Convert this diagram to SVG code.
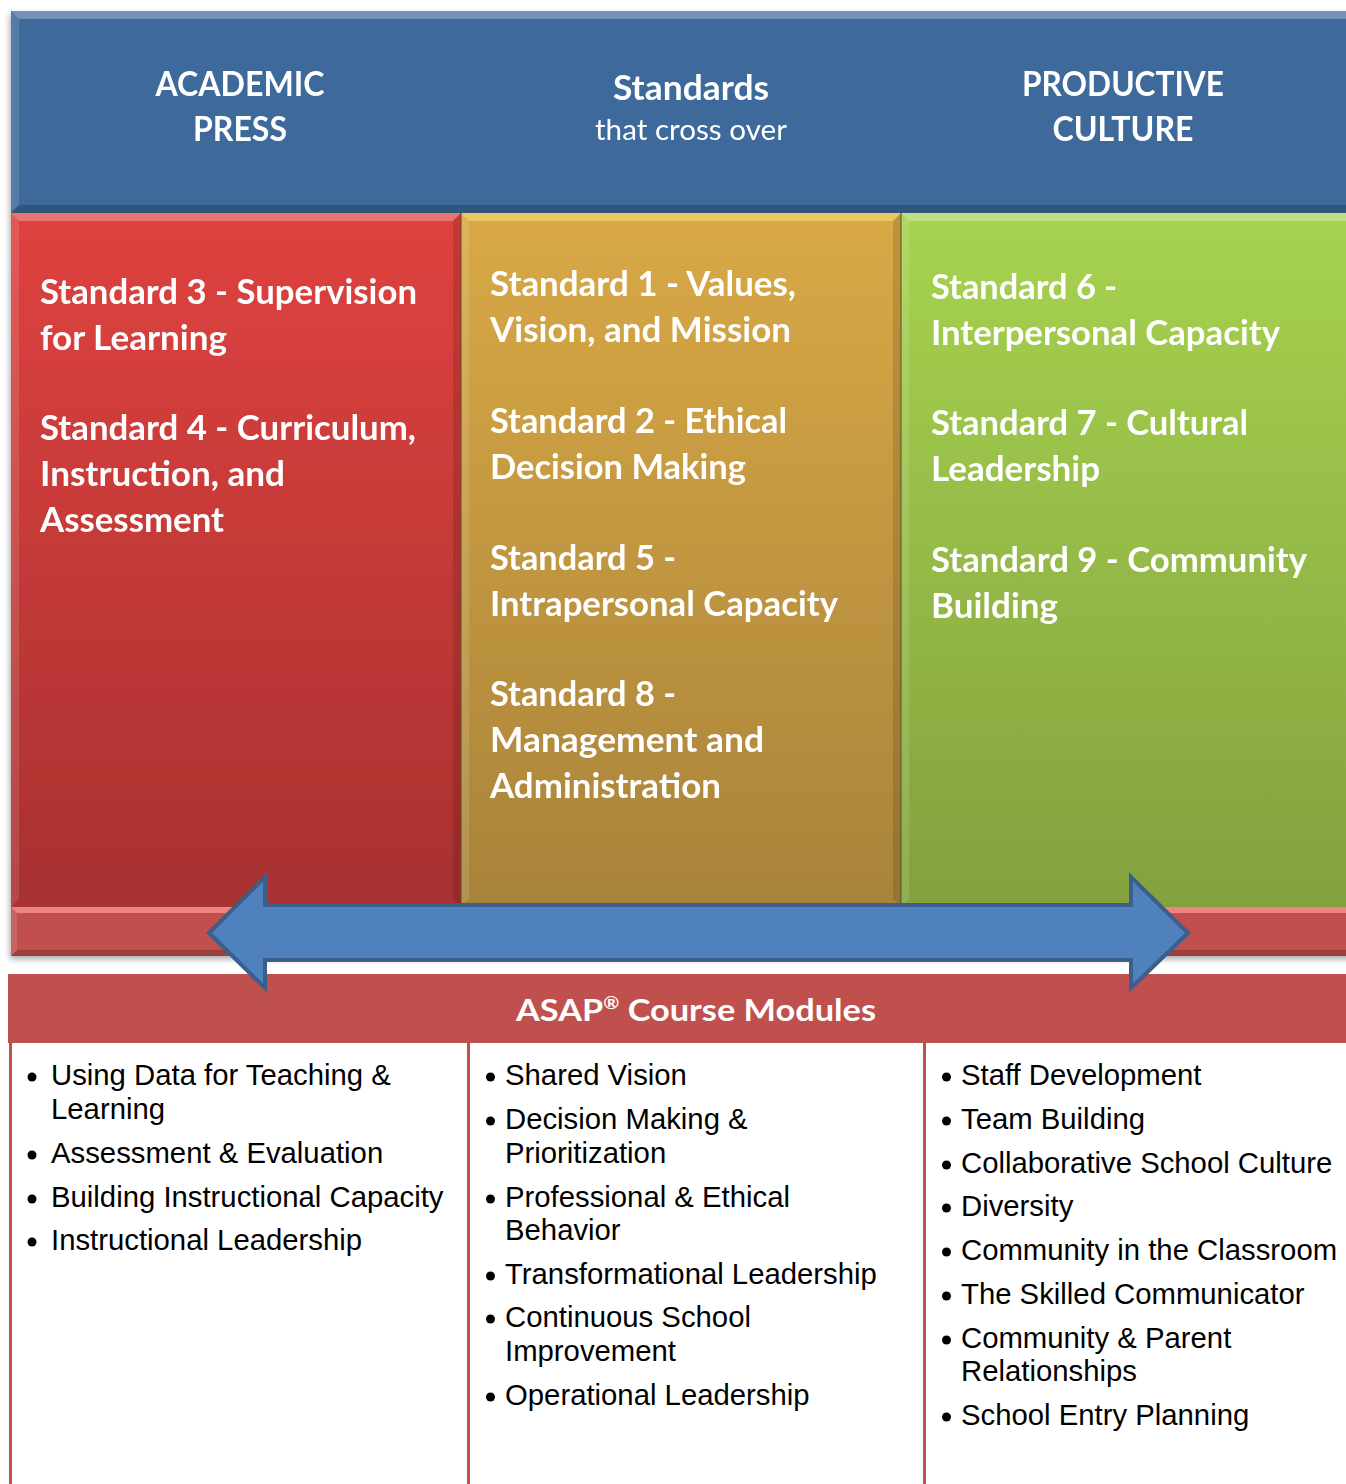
<svg xmlns="http://www.w3.org/2000/svg" width="1346" height="1484" viewBox="0 0 1346 1484">
<defs>
<linearGradient id="gRed" x1="0" y1="0" x2="0" y2="1"><stop offset="0" stop-color="#DF423F"/><stop offset="1" stop-color="#A83131"/></linearGradient>
<linearGradient id="gGold" x1="0" y1="0" x2="0" y2="1"><stop offset="0" stop-color="#D9A946"/><stop offset="1" stop-color="#A8833A"/></linearGradient>
<linearGradient id="gGreen" x1="0" y1="0" x2="0" y2="1"><stop offset="0" stop-color="#A7D350"/><stop offset="1" stop-color="#83A13E"/></linearGradient>
<filter id="sh" x="-5%" y="-5%" width="110%" height="110%"><feDropShadow dx="-1" dy="3" stdDeviation="3" flood-color="#000" flood-opacity="0.35"/></filter>
</defs>
<style>
.hd{font-family:Lato,"Open Sans","Liberation Sans",sans-serif;font-weight:700;font-size:33.5px;fill:#fff}
.hr{font-family:Lato,"Open Sans","Liberation Sans",sans-serif;font-weight:400;font-size:29px;fill:#fff}
.li{font-family:"Liberation Sans",Arial,sans-serif;font-size:29.3px;fill:#000}
.hl{fill:#fff;fill-opacity:0.28}
.hl2{fill:#fff;fill-opacity:0.12}
.dk{fill:#000;fill-opacity:0.12}
.dk2{fill:#000;fill-opacity:0.2}
.bul{fill:#000}
.rule{fill:#C0504D}
</style>
<rect width="1346" height="1484" fill="#fff"/>

<g id="top-structure" filter="url(#sh)">
<g id="header">
<rect x="11" y="11" width="1345" height="202" fill="#3E699B"/>
<polygon class="hl" points="11,11 1356,11 1348,19 19,19"/>
<polygon class="hl2" points="11,11 19,19 19,205 11,213"/>
<polygon class="dk2" points="11,213 19,205 1348,205 1356,213"/>
<text class="hd" x="240" y="96" text-anchor="middle" textLength="169" lengthAdjust="spacingAndGlyphs">ACADEMIC</text>
<text class="hd" x="240" y="141" text-anchor="middle" textLength="94" lengthAdjust="spacingAndGlyphs">PRESS</text>
<text class="hd" x="691" y="100" text-anchor="middle" textLength="156" lengthAdjust="spacingAndGlyphs">Standards</text>
<text class="hr" x="691" y="140" text-anchor="middle" textLength="192" lengthAdjust="spacingAndGlyphs">that cross over</text>
<text class="hd" x="1123" y="96" text-anchor="middle" textLength="202" lengthAdjust="spacingAndGlyphs">PRODUCTIVE</text>
<text class="hd" x="1123" y="141" text-anchor="middle" textLength="141" lengthAdjust="spacingAndGlyphs">CULTURE</text>
</g>

<g id="col-academic">
<rect x="11" y="213" width="450" height="694" fill="url(#gRed)"/>
<polygon class="hl" points="11,213 461,213 453,221 19,221"/>
<polygon class="hl2" points="11,213 19,221 19,899 11,907"/>
<polygon class="dk" points="461,213 461,907 453,899 453,221"/>
<text class="hd" x="40" y="304" textLength="377" lengthAdjust="spacingAndGlyphs">Standard 3 - Supervision</text>
<text class="hd" x="40" y="350" textLength="187" lengthAdjust="spacingAndGlyphs">for Learning</text>
<text class="hd" x="40" y="440" textLength="376" lengthAdjust="spacingAndGlyphs">Standard 4 - Curriculum,</text>
<text class="hd" x="40" y="486" textLength="245" lengthAdjust="spacingAndGlyphs">Instruction, and</text>
<text class="hd" x="40" y="532" textLength="184" lengthAdjust="spacingAndGlyphs">Assessment</text>
</g>

<g id="col-crossover">
<rect x="461" y="213" width="440" height="694" fill="url(#gGold)"/>
<polygon fill="#FCE27A" fill-opacity="0.55" points="461,213 901,213 893,221 469,221"/>
<polygon class="hl2" points="461,213 469,221 469,899 461,907"/>
<polygon class="dk" points="901,213 901,907 893,899 893,221"/>
<line x1="461" y1="213" x2="461" y2="907" stroke="#6b4a20" stroke-opacity="0.5" stroke-width="2"/>
<text class="hd" x="490" y="296" textLength="306" lengthAdjust="spacingAndGlyphs">Standard 1 - Values,</text>
<text class="hd" x="490" y="342" textLength="301" lengthAdjust="spacingAndGlyphs">Vision, and Mission</text>
<text class="hd" x="490" y="433" textLength="297" lengthAdjust="spacingAndGlyphs">Standard 2 - Ethical</text>
<text class="hd" x="490" y="479" textLength="256" lengthAdjust="spacingAndGlyphs">Decision Making</text>
<text class="hd" x="490" y="570" textLength="186" lengthAdjust="spacingAndGlyphs">Standard 5 -</text>
<text class="hd" x="490" y="616" textLength="348" lengthAdjust="spacingAndGlyphs">Intrapersonal Capacity</text>
<text class="hd" x="490" y="706" textLength="186" lengthAdjust="spacingAndGlyphs">Standard 8 -</text>
<text class="hd" x="490" y="752" textLength="274" lengthAdjust="spacingAndGlyphs">Management and</text>
<text class="hd" x="490" y="798" textLength="231" lengthAdjust="spacingAndGlyphs">Administration</text>
</g>

<g id="col-culture">
<rect x="901" y="213" width="455" height="694" fill="url(#gGreen)"/>
<polygon class="hl" points="901,213 1356,213 1348,221 909,221"/>
<polygon class="hl2" points="901,213 909,221 909,899 901,907"/>
<line x1="901" y1="213" x2="901" y2="907" stroke="#4a5a20" stroke-opacity="0.5" stroke-width="2"/>
<text class="hd" x="931" y="299" textLength="186" lengthAdjust="spacingAndGlyphs">Standard 6 -</text>
<text class="hd" x="931" y="345" textLength="349" lengthAdjust="spacingAndGlyphs">Interpersonal Capacity</text>
<text class="hd" x="931" y="435" textLength="317" lengthAdjust="spacingAndGlyphs">Standard 7 - Cultural</text>
<text class="hd" x="931" y="481" textLength="169" lengthAdjust="spacingAndGlyphs">Leadership</text>
<text class="hd" x="931" y="572" textLength="376" lengthAdjust="spacingAndGlyphs">Standard 9 - Community</text>
<text class="hd" x="931" y="618" textLength="127" lengthAdjust="spacingAndGlyphs">Building</text>
</g>

<g id="base-bar">
<rect x="11" y="907" width="1345" height="49" fill="#C0504D"/>
<polygon fill="#FF9A98" fill-opacity="0.7" points="11,907 1356,907 1350,913 17,913"/>
<polygon class="hl2" points="11,907 17,913 17,950 11,956"/>
<polygon class="dk2" points="11,956 17,950 1350,950 1356,956"/>
</g>
</g>

<g id="modules-table">
<rect x="8" y="974" width="1348" height="69" fill="#C0504D"/>
<text x="696" y="1021" text-anchor="middle" style="font-family:Lato,'Open Sans','Liberation Sans',sans-serif;font-weight:700;font-size:30px;fill:#fff" textLength="360" lengthAdjust="spacingAndGlyphs">ASAP<tspan font-size="17" dy="-12">®</tspan><tspan dy="12"> Course Modules</tspan></text>
<rect class="rule" x="9" y="1043" width="3" height="441"/>
<rect class="rule" x="467" y="1043" width="3" height="441"/>
<rect class="rule" x="923" y="1043" width="3" height="441"/>

<g id="modules-academic">
<circle class="bul" cx="32" cy="1077" r="4.5"/><text class="li" x="51" y="1085">Using Data for Teaching &amp;</text>
<text class="li" x="51" y="1119">Learning</text>
<circle class="bul" cx="32" cy="1155" r="4.5"/><text class="li" x="51" y="1163">Assessment &amp; Evaluation</text>
<circle class="bul" cx="32" cy="1199" r="4.5"/><text class="li" x="51" y="1207">Building Instructional Capacity</text>
<circle class="bul" cx="32" cy="1242" r="4.5"/><text class="li" x="51" y="1250">Instructional Leadership</text>
</g>

<g id="modules-crossover">
<circle class="bul" cx="490.5" cy="1077" r="4.5"/><text class="li" x="505" y="1085">Shared Vision</text>
<circle class="bul" cx="490.5" cy="1121" r="4.5"/><text class="li" x="505" y="1129">Decision Making &amp;</text>
<text class="li" x="505" y="1163">Prioritization</text>
<circle class="bul" cx="490.5" cy="1199" r="4.5"/><text class="li" x="505" y="1207">Professional &amp; Ethical</text>
<text class="li" x="505" y="1240">Behavior</text>
<circle class="bul" cx="490.5" cy="1276" r="4.5"/><text class="li" x="505" y="1284">Transformational Leadership</text>
<circle class="bul" cx="490.5" cy="1319" r="4.5"/><text class="li" x="505" y="1327">Continuous School</text>
<text class="li" x="505" y="1361">Improvement</text>
<circle class="bul" cx="490.5" cy="1397" r="4.5"/><text class="li" x="505" y="1405">Operational Leadership</text>
</g>

<g id="modules-culture">
<circle class="bul" cx="946.5" cy="1077" r="4.5"/><text class="li" x="961" y="1085">Staff Development</text>
<circle class="bul" cx="946.5" cy="1121" r="4.5"/><text class="li" x="961" y="1129">Team Building</text>
<circle class="bul" cx="946.5" cy="1165" r="4.5"/><text class="li" x="961" y="1173">Collaborative School Culture</text>
<circle class="bul" cx="946.5" cy="1208" r="4.5"/><text class="li" x="961" y="1216">Diversity</text>
<circle class="bul" cx="946.5" cy="1252" r="4.5"/><text class="li" x="961" y="1260">Community in the Classroom</text>
<circle class="bul" cx="946.5" cy="1296" r="4.5"/><text class="li" x="961" y="1304">The Skilled Communicator</text>
<circle class="bul" cx="946.5" cy="1340" r="4.5"/><text class="li" x="961" y="1348">Community &amp; Parent</text>
<text class="li" x="961" y="1381">Relationships</text>
<circle class="bul" cx="946.5" cy="1417" r="4.5"/><text class="li" x="961" y="1425">School Entry Planning</text>
</g>
</g>

<g id="connectors">
<polygon points="209,933 265,877 265,905 1131,905 1131,877 1188,933 1131,988 1131,960 265,960 265,988" fill="#4F81BD" stroke="#3A5F8C" stroke-width="4" stroke-linejoin="miter"/>
</g>
</svg>
